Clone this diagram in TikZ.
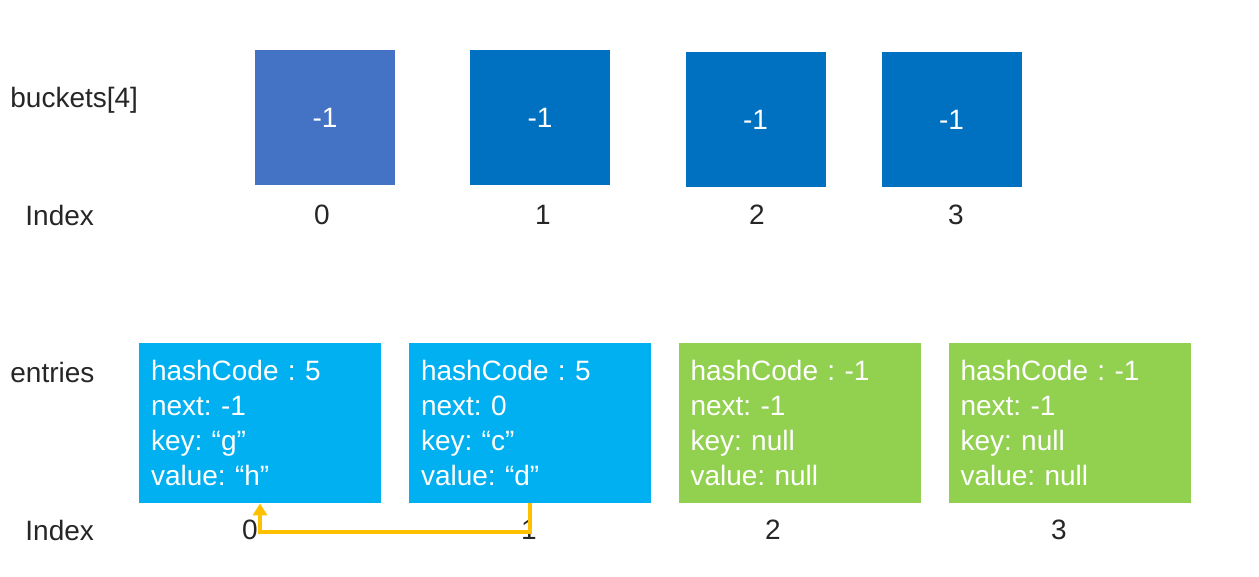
\documentclass[tikz,border=0pt]{standalone}
\usepackage{fontspec}
\setmainfont{Liberation Sans}
\usepackage{xcolor}
\usetikzlibrary{arrows.meta}
\frenchspacing

\definecolor{bucketfirst}{HTML}{4472C4}
\definecolor{bucketblue}{HTML}{0070C0}
\definecolor{entryused}{HTML}{00B0F0}
\definecolor{entryfree}{HTML}{92D050}
\definecolor{nextline}{HTML}{FFC000}
\definecolor{labeltext}{HTML}{262626}

\begin{document}
\begin{tikzpicture}[
        x=0.5pt, y=-0.5pt,
        bucketbox/.style={rectangle, minimum width=70pt, minimum height=67.5pt, inner sep=0pt, text=white, font=\fontsize{14}{17}\selectfont},
        entrybox/.style={rectangle, text width=109pt, inner xsep=6pt, inner ysep=0pt, minimum height=80pt, align=left, text=white, font=\fontsize{14}{17.5}\selectfont},
        lbl/.style={inner sep=0pt, text=labeltext, font=\fontsize{14}{17}\selectfont},
        nextarrow/.style={-{Triangle[width=7pt,length=6pt]}, line width=2pt, draw=nextline}
    ]
    \fill[white] (0,0) rectangle (1259,577);
    \useasboundingbox (0,0) rectangle (1259,577);

    % buckets
    \node[lbl, anchor=west] (bucketslabel) at (10,100) {buckets[4]};
    \node[bucketbox, fill=bucketfirst] (b0) at (325,117.5) {-1};
    \node[bucketbox, fill=bucketblue] (b1) at (540,117.5) {-1};
    \node[bucketbox, fill=bucketblue] (b2) at (755.5,119.5) {-1};
    \node[bucketbox, fill=bucketblue] (b3) at (951.5,119.5) {-1};

    \node[lbl, anchor=west] (bindex) at (25,215) {Index};
    \node[lbl] (bi0) at (322,215) {0};
    \node[lbl] (bi1) at (543,215) {1};
    \node[lbl] (bi2) at (757,215) {2};
    \node[lbl] (bi3) at (956,215) {3};

    % entries
    \node[lbl, anchor=west] (entrieslabel) at (10,372) {entries};
    \node[entrybox, fill=entryused] (e0) at (260,423) {hashCode : 5\\next: -1\\key: “g”\\value: “h”};
    \node[entrybox, fill=entryused] (e1) at (530,423) {hashCode : 5\\next: 0\\key: “c”\\value: “d”};
    \node[entrybox, fill=entryfree] (e2) at (799.5,423) {hashCode : -1\\next: -1\\key: null\\value: null};
    \node[entrybox, fill=entryfree] (e3) at (1069.5,423) {hashCode : -1\\next: -1\\key: null\\value: null};

    \node[lbl, anchor=west] (eindex) at (25,530) {Index};
    \node[lbl] (ei0) at (250,530) {0};
    \node[lbl] (ei1) at (529,530) {1};
    \node[lbl] (ei2) at (773,530) {2};
    \node[lbl] (ei3) at (1059,530) {3};

    \draw[nextarrow] (e1.south) -- ++(0,29) -| (e0.south);

\end{tikzpicture}
\end{document}
